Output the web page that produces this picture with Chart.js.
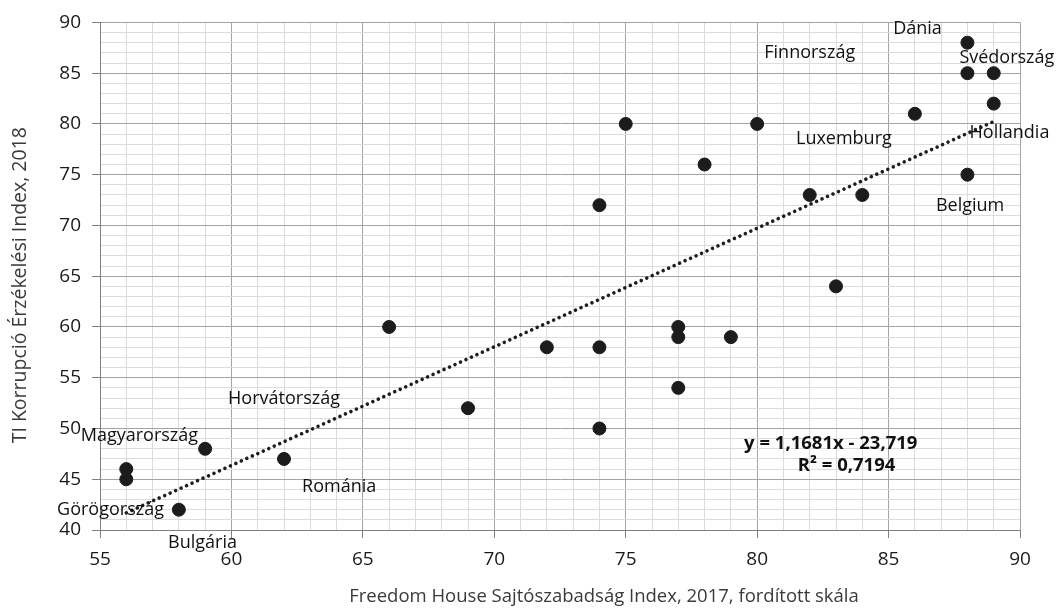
<!DOCTYPE html>
<html>
<head>
<meta charset="utf-8">
<script src="https://cdn.jsdelivr.net/npm/chart.js@4.4.1/dist/chart.umd.min.js"></script>
<style>
  html, body { margin: 0; padding: 0; background: #fff; }
  #wrap { width: 1056px; height: 612px; }
</style>
</head>
<body>
<div id="wrap"><canvas id="press-chart"></canvas></div>
<script>
// Freedom House press index (reversed) vs TI corruption perception index
var pressIndex = [56, 56, 59, 58, 62, 66, 69, 72, 74, 74, 74, 75, 77, 77, 77, 78, 79, 80, 82, 83, 84, 86, 88, 88, 89, 89, 88];
var cpiIndex   = [46, 45, 48, 42, 47, 60, 52, 58, 58, 50, 72, 80, 60, 59, 54, 76, 59, 80, 73, 64, 73, 81, 88, 85, 85, 82, 75];

// linear trend, read at both ends of the data range
var trendX = [56, 89];
var trendY = [41.69, 80.24];

var xTickLabels = [55, 60, 65, 70, 75, 80, 85, 90];
var yTickLabels = [40, 45, 50, 55, 60, 65, 70, 75, 80, 85, 90];

var countryNames = ["Dánia", "Finnország", "Svédország", "Hollandia", "Luxemburg", "Belgium",
                    "Horvátország", "Magyarország", "Görögország", "Bulgária", "Románia"];

var equationText = "y = 1,1681x - 23,719";
var r2Text = "R\u00b2 = 0,7194";
var xTitle = "Freedom House Sajtószabadság Index, 2017, fordított skála";
var yTitle = "TI Korrupció Érzékelési Index, 2018";

var FONT = "'Open Sans', sans-serif";

// where each country name sits, in data units
var labelSpots = [
  [86.1, 89.4], [82.0, 87.0], [89.5, 86.5], [89.6, 79.1], [83.3, 78.5], [88.1, 71.9],
  [62.0, 52.9], [56.5, 49.3], [55.4, 42.0], [58.9, 38.7], [64.1, 44.2]
];

var points = pressIndex.map(function(x, i){ return {x: x, y: cpiIndex[i]}; });
var trend = trendX.map(function(x, i){ return {x: x, y: trendY[i]}; });

var textPlugin = {
  id: 'texts',
  afterDraw: function(chart) {
    var ctx = chart.ctx, xs = chart.scales.x, ys = chart.scales.y, ca = chart.chartArea;
    ctx.save();
    ctx.fillStyle = '#111';
    ctx.textAlign = 'center';
    ctx.textBaseline = 'middle';
    ctx.font = '18px ' + FONT;
    countryNames.forEach(function(name, i){
      ctx.fillText(name, xs.getPixelForValue(labelSpots[i][0]), ys.getPixelForValue(labelSpots[i][1]));
    });
    ctx.font = 'bold 18.5px ' + FONT;
    ctx.fillText(equationText, xs.getPixelForValue(82.8), ys.getPixelForValue(48.45));
    ctx.fillText(r2Text, xs.getPixelForValue(83.4), ys.getPixelForValue(46.3));

    // axis titles
    ctx.fillStyle = '#3a3a3a';
    ctx.font = '18.5px ' + FONT;
    ctx.fillText(xTitle, (ca.left + ca.right) / 2 + 44, 597);
    ctx.font = '19.5px ' + FONT;
    ctx.translate(20, (ca.top + ca.bottom) / 2 + 9);
    ctx.rotate(-Math.PI / 2);
    ctx.fillText(yTitle, 0, 0);
    ctx.restore();
  }
};

function gridColor(ctx) {
  return ctx.tick && ctx.tick.value % 5 === 0 ? '#a4a4a4' : '#dcdcdc';
}
function tickMarkColor(ctx) {
  return ctx.tick && ctx.tick.value % 5 === 0 ? '#808080' : 'rgba(0,0,0,0)';
}

new Chart(document.getElementById("press-chart"), {
  type: 'scatter',
  data: {
    datasets: [
      {
        label: 'Országok',
        data: points,
        backgroundColor: '#1c1c1c',
        borderColor: '#1c1c1c',
        pointRadius: 6.5,
        pointHoverRadius: 6.5
      },
      {
        label: 'Trend',
        data: trend,
        showLine: true,
        pointRadius: 0,
        borderColor: '#1e1e1e',
        borderWidth: 3.6,
        borderDash: [0.01, 6],
        borderCapStyle: 'round',
        fill: false
      }
    ]
  },
  options: {
    responsive: true,
    maintainAspectRatio: false,
    animation: false,
    layout: { padding: { left: 8, right: 36, top: 21, bottom: 4 } },
    plugins: {
      legend: { display: false },
      tooltip: { enabled: false }
    },
    scales: {
      x: {
        type: 'linear',
        min: 55, max: 90,
        afterFit: function(scale){ scale.height = 78; },
        border: { color: '#808080', width: 1 },
        grid: { color: gridColor, tickColor: tickMarkColor, tickLength: 8, lineWidth: 1 },
        ticks: {
          stepSize: 1, autoSkip: false, maxRotation: 0, padding: 10,
          color: '#1a1a1a', font: { family: FONT, size: 19 },
          callback: function(v){ return xTickLabels.indexOf(v) >= 0 ? String(v) : ''; }
        }
      },
      y: {
        type: 'linear',
        min: 40, max: 90,
        afterFit: function(scale){ scale.width = 92; },
        border: { color: '#808080', width: 1 },
        grid: { color: gridColor, tickColor: tickMarkColor, tickLength: 8, lineWidth: 1 },
        ticks: {
          stepSize: 1, autoSkip: false, padding: 11,
          color: '#1a1a1a', font: { family: FONT, size: 19 },
          callback: function(v){ return yTickLabels.indexOf(v) >= 0 ? String(v) : ''; }
        }
      }
    }
  },
  plugins: [textPlugin]
});
</script>
</body>
</html>
